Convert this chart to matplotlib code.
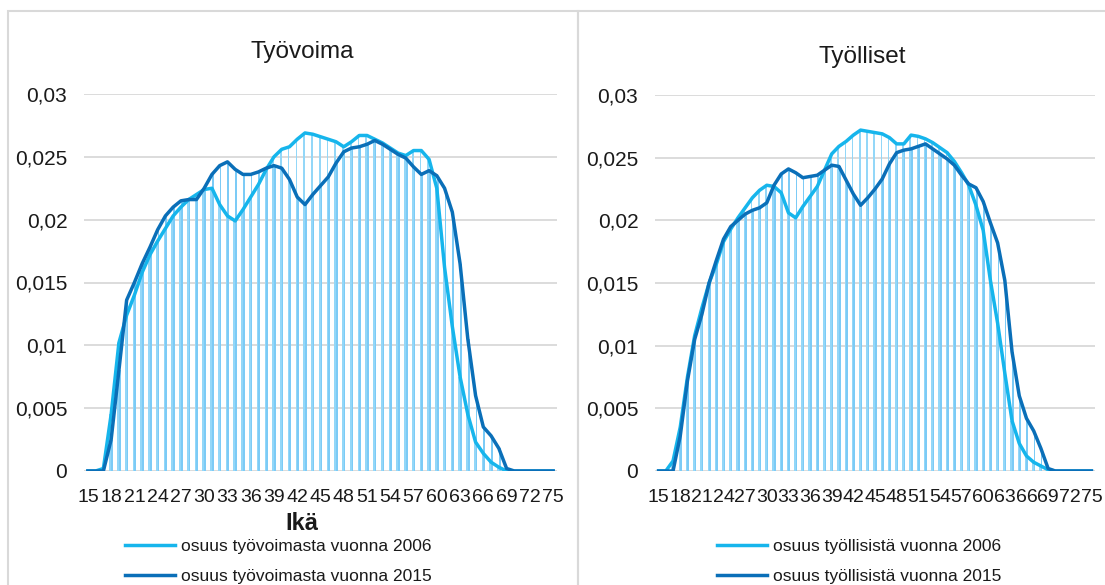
import matplotlib
matplotlib.use('Agg')
import matplotlib.pyplot as plt
from matplotlib.patches import Rectangle
from matplotlib.ticker import FuncFormatter
import numpy as np

plt.rcParams['font.family'] = ['Liberation Sans', 'DejaVu Sans']

ages = list(range(15, 76))

# Työvoima (labour force) age shares
tv_2006 = [0, 0, 0.0002, 0.0045, 0.0102, 0.0124, 0.014, 0.0158, 0.0172, 0.0183,
           0.0193, 0.0203, 0.021, 0.0216, 0.022, 0.0224, 0.0225, 0.0212, 0.0203, 0.0199,
           0.0208, 0.0218, 0.0228, 0.024, 0.025, 0.0256, 0.0258, 0.0264, 0.0269, 0.0268,
           0.0266, 0.0264, 0.0262, 0.0258, 0.0262, 0.0267, 0.0267, 0.0264, 0.0261, 0.0257,
           0.0253, 0.0251, 0.0255, 0.0255, 0.0248, 0.0225, 0.0162, 0.0115, 0.0075, 0.0045,
           0.0023, 0.0014, 0.0007, 0.0003, 0, 0, 0, 0, 0, 0, 0]
tv_2015 = [0, 0, 0, 0.0025, 0.008, 0.0136, 0.015, 0.0165, 0.0178, 0.0192,
           0.0203, 0.021, 0.0215, 0.0216, 0.0216, 0.0225, 0.0236, 0.0243, 0.0246, 0.024,
           0.0236, 0.0236, 0.0238, 0.0241, 0.0243, 0.0241, 0.0232, 0.0218, 0.0212, 0.022,
           0.0227, 0.0234, 0.0245, 0.0254, 0.0257, 0.0258, 0.026, 0.0263, 0.026, 0.0256,
           0.0252, 0.0249, 0.0242, 0.0236, 0.0239, 0.0235, 0.0225, 0.0206, 0.0165, 0.0105,
           0.006, 0.0035, 0.0028, 0.0018, 0.0002, 0, 0, 0, 0, 0, 0]

# Työlliset (employed) age shares
ty_2006 = [0, 0, 0.0008, 0.0035, 0.0075, 0.0108, 0.013, 0.015, 0.0165, 0.0183,
           0.0193, 0.0202, 0.021, 0.0218, 0.0224, 0.0228, 0.0227, 0.0222, 0.0206, 0.0202,
           0.0211, 0.0219, 0.0227, 0.024, 0.0253, 0.0259, 0.0263, 0.0268, 0.0272, 0.0271,
           0.027, 0.0269, 0.0266, 0.0261, 0.0261, 0.0268, 0.0267, 0.0265, 0.0262, 0.0258,
           0.0254, 0.0247, 0.0238, 0.0228, 0.0212, 0.0192, 0.0152, 0.0118, 0.0078, 0.004,
           0.0022, 0.0012, 0.0007, 0.0004, 0.0001, 0, 0, 0, 0, 0, 0]
ty_2015 = [0, 0, 0, 0.0028, 0.0072, 0.0105, 0.0125, 0.015, 0.0168, 0.0185,
           0.0195, 0.02, 0.0205, 0.0208, 0.021, 0.0214, 0.0228, 0.0237, 0.0241, 0.0238,
           0.0234, 0.0235, 0.0236, 0.024, 0.0244, 0.0243, 0.0232, 0.0221, 0.0212, 0.0218,
           0.0225, 0.0233, 0.0245, 0.0254, 0.0256, 0.0257, 0.0259, 0.0261, 0.0257, 0.0253,
           0.0249, 0.0244, 0.0236, 0.0229, 0.0226, 0.0215, 0.0198, 0.0182, 0.0152, 0.0095,
           0.006, 0.0042, 0.0032, 0.0018, 0.0002, 0, 0, 0, 0, 0, 0]

titles = ['Työvoima', 'Työlliset']
labels_tv = ['osuus työvoimasta vuonna 2006', 'osuus työvoimasta vuonna 2015']
labels_ty = ['osuus työllisistä vuonna 2006', 'osuus työllisistä vuonna 2015']

W, H = 1105, 585
fig = plt.figure(figsize=(W / 100, H / 100), dpi=100)


def px(x0, y0, x1, y1):
    # pixel box (top-left origin) -> figure fraction rect
    return [x0 / W, 1 - y1 / H, (x1 - x0) / W, (y1 - y0) / H]


# chart borders
for bx0, bx1 in [(8, 578), (578, 1110)]:
    fig.patches.append(Rectangle((bx0 / W, -0.05), (bx1 - bx0) / W, 1 - 11 / H + 0.05,
                                 transform=fig.transFigure, fill=False,
                                 edgecolor='#d9d9d9', linewidth=1.5))

c_light = '#16b5ec'
c_dark = '#0a6fb8'
bar_a = '#93d7f8'
bar_b = '#7ccbf6'

fmt = FuncFormatter(lambda v, p: ('%g' % v).replace('.', ','))

panels = [
    (px(84, 94, 557, 471), tv_2006, tv_2015, labels_tv, (302, 52), (125, 539)),
    (px(655, 95, 1095, 471), ty_2006, ty_2015, labels_ty, (862, 57), (717, 539)),
]

x = np.arange(len(ages))
for i, (rect, s06, s15, labs, tpos, lpos) in enumerate(panels):
    ax = fig.add_axes(rect)
    ax.bar(x - 0.11, s06, width=0.22, color=bar_a, zorder=2)
    ax.bar(x + 0.11, s15, width=0.22, color=bar_b, zorder=2)
    l1, = ax.plot(x, s06, color=c_light, lw=2.5, zorder=3, solid_joinstyle='round')
    l2, = ax.plot(x, s15, color=c_dark, lw=2.5, zorder=4, solid_joinstyle='round')
    ax.set_xlim(-0.5, len(ages) - 0.5)
    ax.set_ylim(0, 0.03)
    ax.set_yticks([0, 0.005, 0.01, 0.015, 0.02, 0.025, 0.03])
    ax.yaxis.set_major_formatter(fmt)
    ax.set_xticks(x[::3])
    ax.set_xticklabels([str(a) for a in ages[::3]])
    ax.grid(axis='y', color='#d9d9d9', lw=1.3, zorder=0)
    ax.set_axisbelow(True)
    for s in ax.spines.values():
        s.set_visible(False)
    ax.tick_params(length=0, colors='#1a1a1a')
    ax.tick_params(axis='y', pad=12, labelsize=15)
    ax.tick_params(axis='x', pad=13, labelsize=14)
    fig.text(tpos[0] / W, 1 - tpos[1] / H, titles[i], ha='center', va='center',
             fontsize=17.5, color='#1a1a1a')
    fig.legend([l1, l2], labs, loc='upper left',
               bbox_to_anchor=(lpos[0] / W, 1 - lpos[1] / H),
               frameon=False, fontsize=12.5, handlelength=2.9, handletextpad=0.3,
               labelspacing=0.85, borderpad=0, borderaxespad=0, labelcolor='#1a1a1a')

fig.text(302 / W, 1 - 523 / H, 'Ikä', ha='center', va='center', fontsize=17,
         fontweight='bold', color='#1a1a1a')

fig.savefig('out.png', dpi=100)
